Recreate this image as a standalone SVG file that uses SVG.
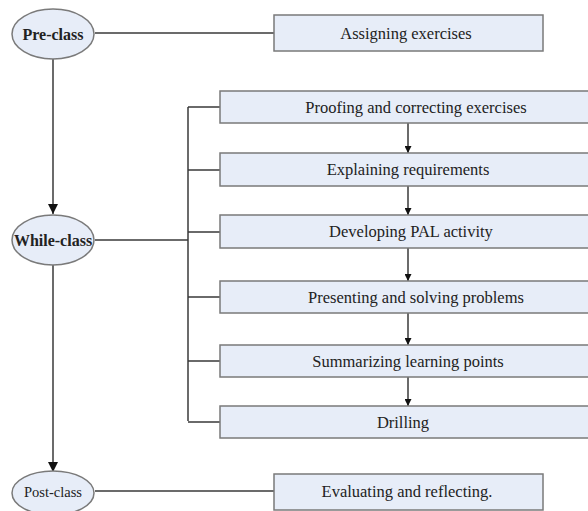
<svg xmlns="http://www.w3.org/2000/svg" width="588" height="511" viewBox="0 0 588 511">
<style>
.node rect, .node ellipse { fill: #e7edf8; stroke: #7a7a7a; stroke-width: 1.5; }
.node text { font-family: "Liberation Serif", "Times New Roman", serif; fill: #222; text-anchor: middle; dominant-baseline: central; }
.box text { font-size: 16.5px; }
.oval text { font-size: 16px; font-weight: bold; }
#connectors path { fill: none; stroke: #3a3a3a; stroke-width: 1.5; }
</style>
<defs>
<marker id="arr" viewBox="0 0 10 10" refX="10" refY="5" markerWidth="7" markerHeight="7" orient="auto" markerUnits="userSpaceOnUse">
<path d="M0,0 L10,5 L0,10 z" fill="#111"/>
</marker>
<marker id="arrBig" viewBox="0 0 10 10" refX="10" refY="5" markerWidth="10" markerHeight="10" orient="auto" markerUnits="userSpaceOnUse">
<path d="M0,0 L10,5 L0,10 z" fill="#111"/>
</marker>
</defs>
<g id="connectors">
<path d="M95,33 H274"/>
<path d="M53,59 V214" marker-end="url(#arrBig)"/>
<path d="M53,265 V472" marker-end="url(#arrBig)"/>
<path d="M95,240 H188"/>
<path d="M188,107 V421"/>
<path d="M188,107 H220 M188,170 H220 M188,232 H220 M188,297 H220 M188,361 H220 M188,422 H220"/>
<path d="M408,123 V153" marker-end="url(#arr)"/>
<path d="M408,186 V215" marker-end="url(#arr)"/>
<path d="M408,248 V281" marker-end="url(#arr)"/>
<path d="M408,313 V345" marker-end="url(#arr)"/>
<path d="M408,377 V406" marker-end="url(#arr)"/>
<path d="M95,491 H274"/>
</g>
<g id="pre-class" class="node oval"><ellipse cx="53" cy="34" rx="41" ry="25"/><text x="53" y="34">Pre-class</text></g>
<g id="while-class" class="node oval"><ellipse cx="53" cy="240" rx="41" ry="25"/><text x="53" y="240">While-class</text></g>
<g id="post-class" class="node oval"><ellipse cx="53" cy="493" rx="41" ry="22"/><text x="53" y="492" style="font-weight:normal;font-size:14.5px">Post-class</text></g>
<g id="assigning" class="node box"><rect x="274" y="15" width="269" height="36"/><text x="406" y="33">Assigning exercises</text></g>
<g id="proofing" class="node box"><rect x="220" y="91" width="376" height="32"/><text x="416" y="107">Proofing and correcting exercises</text></g>
<g id="explaining" class="node box"><rect x="220" y="153" width="376" height="33"/><text x="408" y="169">Explaining requirements</text></g>
<g id="developing" class="node box"><rect x="220" y="215" width="376" height="33"/><text x="411" y="231">Developing PAL activity</text></g>
<g id="presenting" class="node box"><rect x="220" y="281" width="376" height="32"/><text x="416" y="297">Presenting and solving problems</text></g>
<g id="summarizing" class="node box"><rect x="220" y="345" width="376" height="32"/><text x="408" y="361">Summarizing learning points</text></g>
<g id="drilling" class="node box"><rect x="220" y="406" width="376" height="32"/><text x="403" y="422">Drilling</text></g>
<g id="evaluating" class="node box"><rect x="274" y="474" width="269" height="36"/><text x="407" y="491">Evaluating and reflecting.</text></g>
</svg>
